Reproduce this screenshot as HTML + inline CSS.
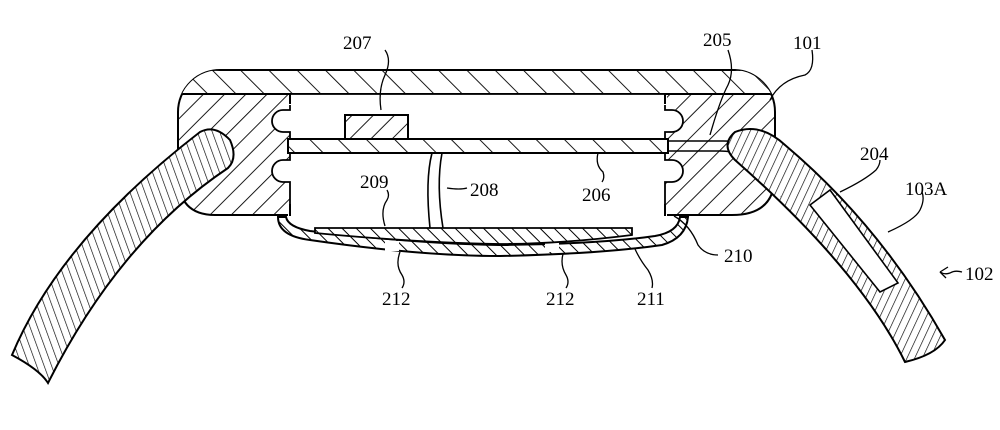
<!DOCTYPE html>
<html><head><meta charset="utf-8"><style>
html,body{margin:0;padding:0;background:#fff;}
svg{display:block}
text{font-family:"Liberation Serif",serif;font-size:19px;fill:#000}
</style></head><body>
<svg width="1000" height="430" viewBox="0 0 1000 430">
<defs>
<pattern id="h1" patternUnits="userSpaceOnUse" width="15" height="15" patternTransform="rotate(45)">
<rect width="15" height="15" fill="#fff"/><line x1="0" y1="0" x2="0" y2="15" stroke="#000" stroke-width="1.8"/></pattern>
<pattern id="h2" patternUnits="userSpaceOnUse" width="20" height="20" patternTransform="rotate(-45)">
<rect width="20" height="20" fill="#fff"/><line x1="0" y1="0" x2="0" y2="20" stroke="#000" stroke-width="1.8"/></pattern>
<pattern id="h6" patternUnits="userSpaceOnUse" width="10" height="10" patternTransform="rotate(-45)">
<rect width="10" height="10" fill="#fff"/><line x1="0" y1="0" x2="0" y2="10" stroke="#000" stroke-width="2"/></pattern>
<pattern id="h3" patternUnits="userSpaceOnUse" width="7" height="7" patternTransform="rotate(-20)">
<rect width="7" height="7" fill="#fff"/><line x1="0" y1="0" x2="0" y2="7" stroke="#000" stroke-width="1.3"/></pattern>
<pattern id="h4" patternUnits="userSpaceOnUse" width="7" height="7" patternTransform="rotate(25)">
<rect width="7" height="7" fill="#fff"/><line x1="0" y1="0" x2="0" y2="7" stroke="#000" stroke-width="1.3"/></pattern>
<clipPath id="outer"><path d="M222 70 L735 70 A42 42 0 0 1 775 112 L775 175 Q775 215 732 215 L215 215 Q178 215 178 175 L178 112 A42 42 0 0 1 222 70 Z"/></clipPath>
</defs>
<g stroke="#000" stroke-width="2" fill="none">
<path d="M222 70 L735 70 A42 42 0 0 1 775 112 L775 175 Q775 215 732 215 L215 215 Q178 215 178 175 L178 112 A42 42 0 0 1 222 70 Z" fill="url(#h1)"/>
<rect x="170" y="70" width="620" height="24" fill="url(#h2)" clip-path="url(#outer)"/>
<line x1="200" y1="94" x2="760" y2="94"/>
<path d="M290 94 L665 94 L665 110 L672 110 A11 11 0 0 1 672 132 L665 132 L665 160 L672 160 A11 11 0 0 1 672 182 L665 182 L665 215 L290 215 L290 182 L283 182 A11 11 0 0 1 283 160 L290 160 L290 132 L283 132 A11 11 0 0 1 283 110 L290 110 Z" fill="#fff" stroke-width="1.8"/>
<rect x="288" y="95" width="379" height="10" fill="#fff" stroke="none"/>
<rect x="288" y="205" width="379" height="12" fill="#fff" stroke="none"/>
<line x1="290" y1="94" x2="290" y2="104"/><line x1="665" y1="94" x2="665" y2="104"/>
<line x1="290" y1="204" x2="290" y2="216"/><line x1="665" y1="204" x2="665" y2="216"/>
<rect x="288" y="139" width="380" height="14" fill="url(#h2)"/>
<rect x="345" y="115" width="63" height="24" fill="url(#h1)"/>
<path d="M432 153 Q425 180 430 228 M442 153 Q436 185 443 228" stroke-width="1.6"/>
<path d="M668 141 L720 141 Q770 140 800 170 L815 187 M668 151 L720 151 Q760 152 790 180 L807 196" stroke-width="1.5"/>
<!-- back cover outer 211 -->
<path d="M278 217 Q278 236 310 240 Q420 256 500 256 Q600 254 662 245 Q686 238 688 217 L680 217 Q678 232 655 236 Q600 244 500 245 Q420 244 310 231 Q288 227 286 217 Z" fill="url(#h6)" stroke-width="2"/>
<rect x="385" y="241" width="14" height="10" fill="#fff" stroke="none"/>
<rect x="545" y="242" width="14" height="10" fill="#fff" stroke="none"/>
<!-- plate 209 -->
<path d="M315 228 L632 228 L632 235 Q560 244 500 244 Q420 243 315 233 Z" fill="url(#h6)" stroke-width="1.8"/>
<!-- left strap -->
<path d="M200 132 Q215 124 230 140 Q238 158 228 168 Q120 240 48 383 Q40 370 12 355 Q60 240 200 132 Z" fill="url(#h3)"/>
<!-- right strap -->
<path d="M735 132 Q760 122 785 145 Q880 225 945 340 Q935 355 905 362 Q860 270 735 160 Q720 145 735 132 Z" fill="url(#h4)"/>
<path d="M810 205 L830 190 L898 283 L880 292 Z" fill="#fff" stroke-width="1.6"/>
<path d="M381 110 Q378 90 385 75 Q392 60 385 50" stroke-width="1.3"/>
<path d="M710 135 Q720 100 728 85 Q735 70 728 50" stroke-width="1.3"/>
<path d="M770 100 Q780 80 805 75 Q815 70 812 50" stroke-width="1.3"/>
<path d="M840 192 Q865 180 876 170 Q880 165 880 160" stroke-width="1.3"/>
<path d="M888 232 Q915 220 920 210 Q925 200 922 192" stroke-width="1.3"/>
<path d="M385 226 Q380 210 387 200 Q390 195 387 190" stroke-width="1.3"/>
<path d="M447 188 Q460 190 467 188" stroke-width="1.3"/>
<path d="M598 153 Q595 165 603 172 Q605 178 602 182" stroke-width="1.3"/>
<path d="M674 216 Q690 225 698 245 Q705 255 718 255" stroke-width="1.3"/>
<path d="M400 252 Q395 265 402 275 Q406 282 402 288" stroke-width="1.3"/>
<path d="M563 254 Q560 265 566 275 Q570 282 566 288" stroke-width="1.3"/>
<path d="M635 249 Q640 260 648 270 Q654 280 652 288" stroke-width="1.3"/>
<path d="M962 272 Q955 270 950 273 Q945 275 940 272" stroke-width="1.3"/>
<path d="M940 272 L948 267 M940 272 L946 278" stroke-width="1.3"/>
</g>
<text x="343" y="49">207</text>
<text x="703" y="46">205</text>
<text x="793" y="49">101</text>
<text x="860" y="160">204</text>
<text x="905" y="195">103A</text>
<text x="965" y="280">102</text>
<text x="360" y="188">209</text>
<text x="470" y="196">208</text>
<text x="582" y="201">206</text>
<text x="724" y="262">210</text>
<text x="382" y="305">212</text>
<text x="546" y="305">212</text>
<text x="637" y="305">211</text>
</svg>
</body></html>
